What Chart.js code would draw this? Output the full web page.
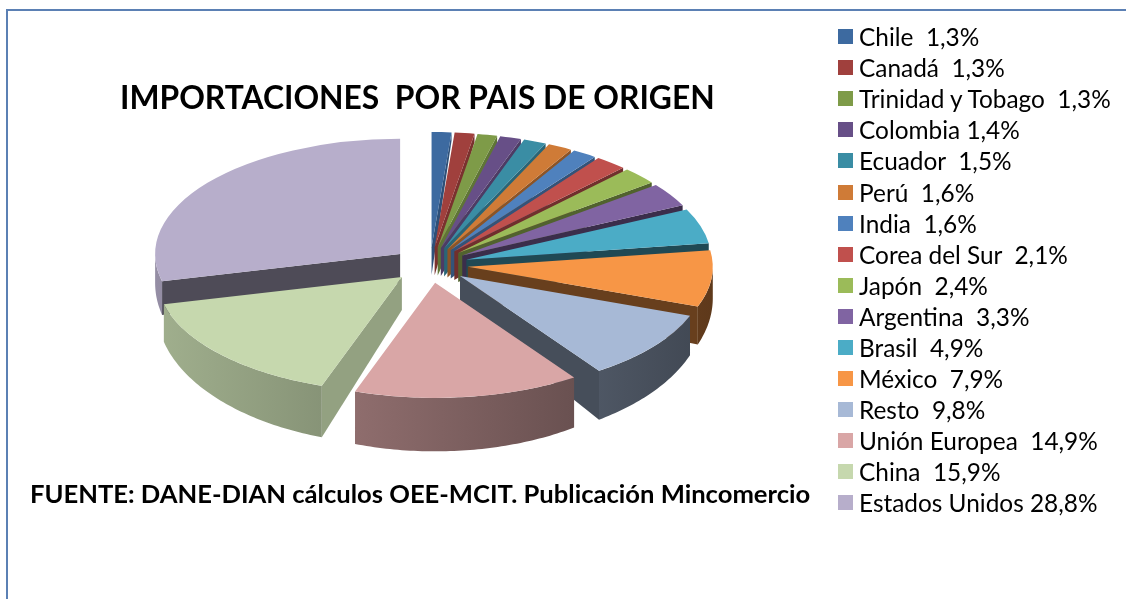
<!DOCTYPE html>
<html>
<head>
<meta charset="utf-8">
<script src="https://cdn.jsdelivr.net/npm/chart.js@4"></script>
<style>
  html, body { margin: 0; padding: 0; background: #fff; overflow: hidden; }
  #wrap { position: relative; width: 1126px; height: 599px; overflow: hidden; font-family: Lato, "Open Sans", sans-serif; }
  #frame { position: absolute; left: 6px; top: 9px; width: 1300px; height: 800px; border-left: 2px solid #5b80b4; border-top: 2px solid #5b80b4; }
  #pie { position: absolute; left: 0; top: 0; }
  #title { position: absolute; left: 120px; top: 77px; font-weight: bold; font-size: 31.8px; line-height: 40px; white-space: pre; color: #000; }
  #source { position: absolute; left: 30px; top: 477px; font-weight: bold; font-size: 25.6px; line-height: 32px; white-space: pre; color: #000; }
  #legend { position: absolute; left: 838px; top: 21px; }
  .item { height: 31.1px; display: flex; align-items: center; white-space: pre; font-size: 24.4px; color: #000; }
  .box { width: 15px; height: 15px; margin-right: 6px; flex: none; }
</style>
</head>
<body>
<div id="wrap">
  <div id="frame"></div>
  <canvas id="pie" width="1126" height="599"></canvas>
  <div id="title">IMPORTACIONES  POR PAIS DE ORIGEN</div>
  <div id="source">FUENTE: DANE-DIAN cálculos OEE-MCIT. Publicación Mincomercio</div>
  <div id="legend"></div>
</div>
<script>
// data, clockwise from 12 o'clock
const labels = [
  "Chile  1,3%", "Canadá  1,3%", "Trinidad y Tobago  1,3%", "Colombia 1,4%",
  "Ecuador  1,5%", "Perú  1,6%", "India  1,6%", "Corea del Sur  2,1%",
  "Japón  2,4%", "Argentina  3,3%", "Brasil  4,9%", "México  7,9%",
  "Resto  9,8%", "Unión Europea  14,9%", "China  15,9%", "Estados Unidos 28,8%"
];
const shares = [1.3, 1.3, 1.3, 1.4, 1.5, 1.6, 1.6, 2.1, 2.4, 3.3, 4.9, 7.9, 9.8, 14.9, 15.9, 28.8];
const colors = [
  "#3d6aa0", "#a0403d", "#7e9b48", "#674f87", "#3a8da4", "#cf7b37",
  "#4f81bd", "#c0504d", "#9bbb59", "#8064a2", "#4bacc6", "#f79646",
  "#a7b9d6", "#d9a6a6", "#c6d8ae", "#b7aecb"
];

// 3d look
const TILT = 0.47;      // vertical squash of the pie
const EXPLODE = 38;     // how far each slice is pulled out
const VANISH_Y = 83;    // side depth grows with distance below this line
const DEPTH = 0.17;

function shade(hex, f) {
  const n = parseInt(hex.slice(1), 16);
  const r = Math.round(((n >> 16) & 255) * f);
  const g = Math.round(((n >> 8) & 255) * f);
  const b = Math.round((n & 255) * f);
  return `rgb(${r},${g},${b})`;
}

// radial faces turned to the right catch more light
function faceLight(normal) {
  const c = Math.max(0, Math.cos(normal - Math.PI / 18));
  return 0.42 + 0.34 * Math.pow(c, 4);
}

const pie3d = {
  id: "pie3d",
  beforeDatasetsDraw(chart) {
    const ctx = chart.ctx;
    const arcs = chart.getDatasetMeta(0).data;
    const cy = arcs[0].y;
    const cx = arcs[0].x;
    const R = arcs[0].outerRadius;

    const slices = arcs.map((arc, i) => {
      const mid = (arc.startAngle + arc.endAngle) / 2;
      return { arc, i, mid, ex: Math.cos(mid) * EXPLODE, ey: Math.sin(mid) * EXPLODE };
    });
    const pt = (s, a, r) => ({
      x: s.arc.x + s.ex + Math.cos(a) * r,
      y: cy + (s.ey + Math.sin(a) * r) * TILT
    });
    const drop = (p) => ({ x: p.x, y: p.y + (p.y - VANISH_Y) * DEPTH });

    // back to front
    slices.sort((a, b) => Math.sin(a.mid) - Math.sin(b.mid));

    for (const s of slices) {
      const { arc } = s;
      const color = colors[s.i];
      const a0 = arc.startAngle, a1 = arc.endAngle;
      const V = pt(s, 0, 0);

      // cut faces
      for (const [a, sgn] of [[a0, -1], [a1, 1]]) {
        const n = a + sgn * Math.PI / 2;
        if (Math.sin(n) <= 0) continue;
        const P = pt(s, a, arc.outerRadius);
        const P2 = drop(P), V2 = drop(V);
        ctx.beginPath();
        ctx.moveTo(V.x, V.y);
        ctx.lineTo(P.x, P.y);
        ctx.lineTo(P2.x, P2.y);
        ctx.lineTo(V2.x, V2.y);
        ctx.closePath();
        ctx.fillStyle = shade(color, faceLight(n));
        ctx.fill();
      }

      // outer wall, front half only
      const w0 = Math.max(a0, 0), w1 = Math.min(a1, Math.PI);
      if (w1 > w0) {
        const steps = Math.max(4, Math.ceil((w1 - w0) * 60));
        const top = [];
        for (let k = 0; k <= steps; k++) top.push(pt(s, w0 + (w1 - w0) * k / steps, arc.outerRadius));
        ctx.beginPath();
        top.forEach((p, k) => (k ? ctx.lineTo(p.x, p.y) : ctx.moveTo(p.x, p.y)));
        for (let k = top.length - 1; k >= 0; k--) {
          const q = drop(top[k]);
          ctx.lineTo(q.x, q.y);
        }
        ctx.closePath();
        const grad = ctx.createLinearGradient(cx - R - EXPLODE, 0, cx + R + EXPLODE, 0);
        grad.addColorStop(0, shade(color, 0.82));
        grad.addColorStop(1, shade(color, 0.38));
        ctx.fillStyle = grad;
        ctx.fill();
      }

      // top face, drawn by the arc element itself
      ctx.save();
      ctx.translate(0, cy);
      ctx.scale(1, TILT);
      ctx.translate(s.ex, s.ey - cy);
      arc.draw(ctx);
      ctx.restore();
    }
    return false;
  }
};

// html legend
const legendEl = document.getElementById("legend");
labels.forEach((txt, i) => {
  const row = document.createElement("div");
  row.className = "item";
  const box = document.createElement("span");
  box.className = "box";
  box.style.background = colors[i];
  const t = document.createElement("span");
  t.textContent = txt;
  row.appendChild(box);
  row.appendChild(t);
  legendEl.appendChild(row);
});

new Chart(document.getElementById("pie"), {
  type: "pie",
  data: {
    labels,
    datasets: [{
      data: shares,
      backgroundColor: colors,
      borderWidth: 0,
      radius: 245
    }]
  },
  options: {
    responsive: false,
    animation: false,
    layout: { padding: { left: 180, right: 446, top: 15, bottom: 84 } },
    plugins: {
      legend: { display: false },
      tooltip: { enabled: false },
      title: { display: false }
    }
  },
  plugins: [pie3d]
});
</script>
</body>
</html>
